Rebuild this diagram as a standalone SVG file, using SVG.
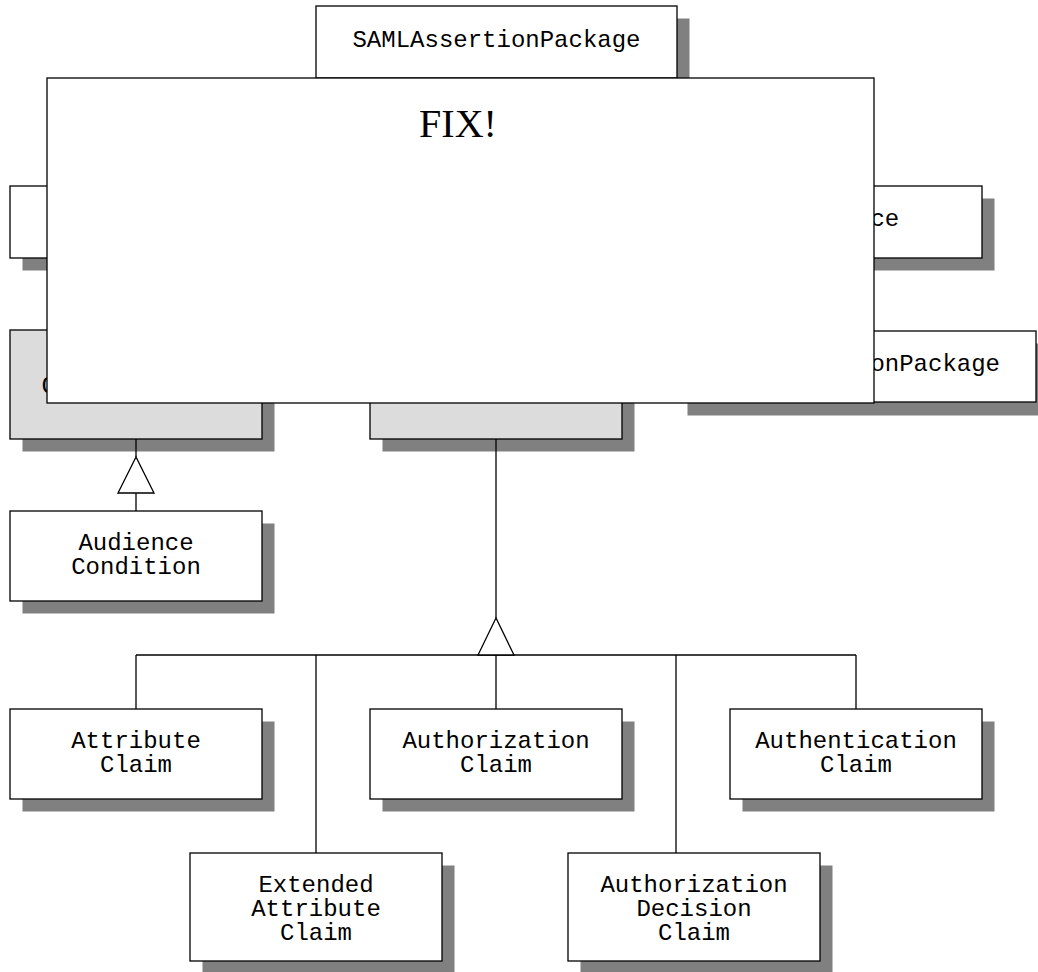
<svg xmlns="http://www.w3.org/2000/svg" width="1038" height="972" viewBox="0 0 1038 972">
<style>
.sh{fill:#808080;stroke:none}
.bx{fill:#ffffff;stroke:#000000;stroke-width:1.3}
.gb{fill:#dcdcdc;stroke:#000000;stroke-width:1.3}
.t{font-family:"Liberation Mono","Courier New",monospace;font-size:24px;fill:#000000;text-anchor:middle}
.ts{font-family:"Liberation Mono","Courier New",monospace;font-size:24px;fill:#000000}
.cn{fill:none;stroke:#000000;stroke-width:1.3}
.tri{fill:#ffffff;stroke:#000000;stroke-width:1.3}
</style>
<rect width="1038" height="972" fill="#ffffff"/>
<g id="samlAssertionPackageTop">
<rect class="sh" x="328.5" y="18.5" width="361" height="72"/>
<rect class="bx" x="316" y="6" width="361" height="72"/>
<text class="t" x="496.5" y="47">SAMLAssertionPackage</text>
</g>
<g id="leftTopBox">
<rect class="sh" x="22.5" y="198.5" width="252" height="72"/>
<rect class="bx" x="10" y="186" width="252" height="72"/>
</g>
<g id="rightTopBox">
<rect class="sh" x="742.5" y="198.5" width="252" height="72"/>
<rect class="bx" x="730" y="186" width="252" height="72"/>
<text class="ts" x="870.4" y="226">ce</text>
</g>
<g id="leftGrayBox">
<rect class="sh" x="22.5" y="342.5" width="252" height="109"/>
<rect class="gb" x="10" y="330" width="252" height="109"/>
<text class="ts" x="41.5" y="393">C</text>
</g>
<g id="centerGrayBox">
<rect class="sh" x="382.5" y="342.5" width="252" height="109"/>
<rect class="gb" x="370" y="330" width="252" height="109"/>
</g>
<g id="rightPackageBox">
<rect class="sh" x="687.5" y="343.5" width="362" height="72"/>
<rect class="bx" x="675" y="331" width="361" height="71"/>
<text class="ts" x="870.4" y="371">onPackage</text>
</g>
<g id="connectors">
<line class="cn" x1="136" y1="439" x2="136" y2="457"/>
<polygon class="tri" points="136,457 118,493 154,493"/>
<line class="cn" x1="136" y1="493" x2="136" y2="511"/>
<line class="cn" x1="496" y1="439" x2="496" y2="618"/>
<line class="cn" x1="136" y1="655" x2="856" y2="655"/>
<polygon class="tri" points="496,618 478,655 514,655"/>
<line class="cn" x1="136" y1="655" x2="136" y2="709"/>
<line class="cn" x1="316" y1="655" x2="316" y2="853"/>
<line class="cn" x1="496" y1="655" x2="496" y2="709"/>
<line class="cn" x1="676" y1="655" x2="676" y2="853"/>
<line class="cn" x1="856" y1="655" x2="856" y2="709"/>
</g>
<g id="audienceCondition">
<rect class="sh" x="22.5" y="523.5" width="252" height="90"/>
<rect class="bx" x="10" y="511" width="252" height="90"/>
<text class="t" x="136" y="550">Audience</text>
<text class="t" x="136" y="574">Condition</text>
</g>
<g id="attributeClaim">
<rect class="sh" x="22.5" y="721.5" width="252" height="90"/>
<rect class="bx" x="10" y="709" width="252" height="90"/>
<text class="t" x="136" y="748">Attribute</text>
<text class="t" x="136" y="772">Claim</text>
</g>
<g id="authorizationClaim">
<rect class="sh" x="382.5" y="721.5" width="252" height="90"/>
<rect class="bx" x="370" y="709" width="252" height="90"/>
<text class="t" x="496" y="748">Authorization</text>
<text class="t" x="496" y="772">Claim</text>
</g>
<g id="authenticationClaim">
<rect class="sh" x="742.5" y="721.5" width="252" height="90"/>
<rect class="bx" x="730" y="709" width="252" height="90"/>
<text class="t" x="856" y="748">Authentication</text>
<text class="t" x="856" y="772">Claim</text>
</g>
<g id="extendedAttributeClaim">
<rect class="sh" x="202.5" y="865.5" width="252" height="108"/>
<rect class="bx" x="190" y="853" width="252" height="108"/>
<text class="t" x="316" y="892">Extended</text>
<text class="t" x="316" y="916">Attribute</text>
<text class="t" x="316" y="940">Claim</text>
</g>
<g id="authorizationDecisionClaim">
<rect class="sh" x="580.5" y="865.5" width="252" height="108"/>
<rect class="bx" x="568" y="853" width="252" height="108"/>
<text class="t" x="694" y="892">Authorization</text>
<text class="t" x="694" y="916">Decision</text>
<text class="t" x="694" y="940">Claim</text>
</g>
<g id="fixOverlay">
<rect class="bx" x="47" y="78" width="827" height="325"/>
<text x="458" y="137" font-family="'Liberation Serif','Times New Roman',serif" font-size="40" text-anchor="middle" fill="#000000">FIX!</text>
</g>
</svg>
